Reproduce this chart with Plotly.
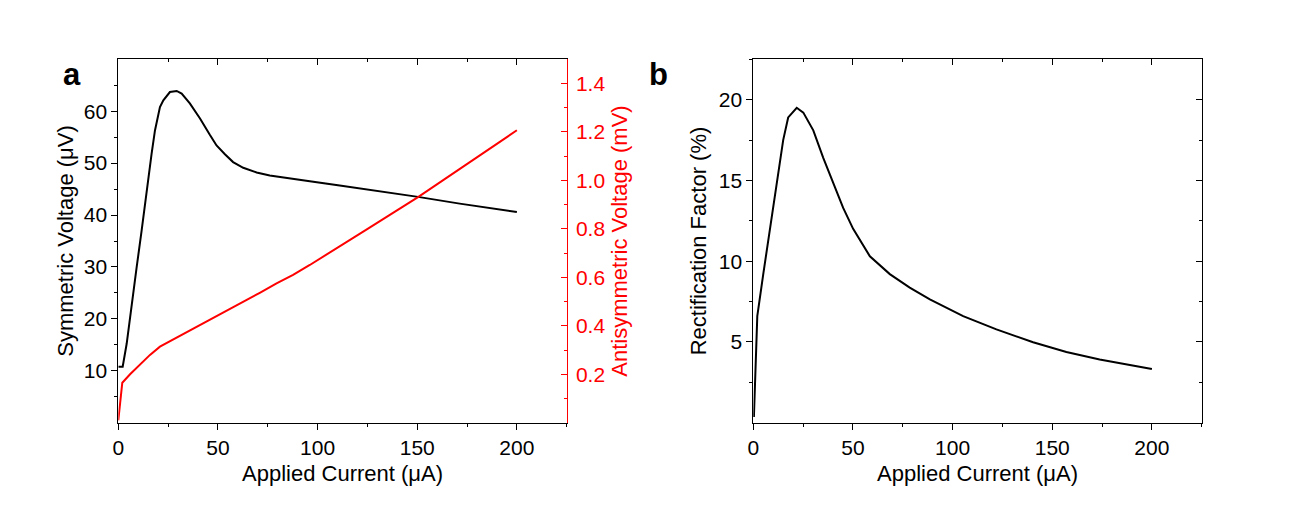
import plotly.graph_objects as go

# ---------------- data ----------------
# Panel a: symmetric voltage (uV) vs applied current (uA)
I_sym = [0, 2.2, 4.2, 6.7, 9.2, 11.7, 14.2, 16.7, 18.4, 20.9, 22.6, 25.9, 29.3, 31.8,
         35.9, 41.0, 46.0, 49.3, 53.5, 57.6, 62.7, 69.4, 76.0, 82.7, 89.4, 96.1,
         111.1, 131.2, 150.4, 171.3, 200]
V_sym = [10.8, 10.8, 15.2, 22.9, 29.9, 37.0, 44.7, 51.8, 56.3, 60.8, 62.1, 63.7, 63.9, 63.4,
         61.5, 58.6, 55.4, 53.4, 51.7, 50.2, 49.1, 48.2, 47.6, 47.2, 46.9, 46.5,
         45.7, 44.6, 43.5, 42.2, 40.6]

# Panel a: antisymmetric voltage (mV) vs applied current (uA)
I_anti = [0, 0.85, 2.0, 5.9, 10.9, 15.9, 20.9, 29.3, 37.6, 46.0, 54.3, 62.7, 71.0, 79.4,
          87.7, 96.1, 107.8, 124.5, 150.4, 166.3, 183.0, 200]
V_anti = [0.01, 0.09, 0.165, 0.20, 0.241, 0.28, 0.314, 0.351, 0.386, 0.423, 0.462, 0.496,
          0.536, 0.575, 0.61, 0.651, 0.71, 0.797, 0.931, 1.02, 1.11, 1.207]

# Panel b: rectification factor (%) vs applied current (uA)
I_rf = [0.3, 0.8, 1.3, 1.7, 2.0, 5.0, 9.2, 13.4, 15.0, 17.5, 21.8, 25.1, 30.1, 35.1, 40.1,
        45.1, 50.1, 58.5, 68.5, 78.5, 88.6, 105.3, 122.0, 140.4, 157.1, 173.8, 200]
V_rf = [0.35, 2.1, 3.7, 5.3, 6.6, 9.2, 12.7, 16.4, 17.5, 18.9, 19.5, 19.2, 18.1, 16.4, 14.9,
        13.3, 12.0, 10.3, 9.2, 8.36, 7.63, 6.6, 5.78, 4.98, 4.38, 3.91, 3.32]

x_ticks = [0, 50, 100, 150, 200]
sym_ticks = [10, 20, 30, 40, 50, 60]
anti_ticks = [0.2, 0.4, 0.6, 0.8, 1.0, 1.2, 1.4]
anti_labels = ["0.2", "0.4", "0.6", "0.8", "1.0", "1.2", "1.4"]
rf_ticks = [5, 10, 15, 20]

FONT = "Liberation Sans, Arial, sans-serif"
FS = 21
FT = 22
RED = "#ff0000"
W, H = 1295, 510
OFF = 8  # page body margin

fig = go.Figure()
fig.add_trace(go.Scatter(x=I_sym, y=V_sym, mode="lines", line=dict(color="black", width=2),
                         xaxis="x", yaxis="y", showlegend=False))
fig.add_trace(go.Scatter(x=I_anti, y=V_anti, mode="lines", line=dict(color=RED, width=2),
                         xaxis="x", yaxis="y2", showlegend=False))
fig.add_trace(go.Scatter(x=I_rf, y=V_rf, mode="lines", line=dict(color="black", width=2),
                         xaxis="x2", yaxis="y3", showlegend=False))
# invisible helper traces so the mirror (frame) axes are drawn
fig.add_trace(go.Scatter(x=I_sym, y=V_sym, mode="lines", opacity=0, hoverinfo="skip",
                         xaxis="x3", yaxis="y", showlegend=False))
fig.add_trace(go.Scatter(x=I_rf, y=V_rf, mode="lines", opacity=0, hoverinfo="skip",
                         xaxis="x4", yaxis="y4", showlegend=False))


def px_x(X):
    return (X - OFF) / W


def px_y(Y):
    return 1 - (Y - OFF) / H


xa_dom = [px_x(118.3), px_x(566.7)]
xb_dom = [px_x(753.3), px_x(1201.7)]
y_dom = [px_y(422.7), px_y(59.3)]

tickfont = dict(family=FONT, size=FS, color="black")
titlefont = dict(family=FONT, size=FT, color="black")


def xaxis_main(domain, anchor):
    return dict(domain=domain, anchor=anchor, range=[0, 225], tickmode="array",
                tickvals=x_ticks, ticks="outside", ticklen=6, tickwidth=1, tickcolor="black",
                minor=dict(tickmode="linear", tick0=25, dtick=50, ticks="outside", ticklen=3,
                           tickcolor="black"),
                showline=True, linecolor="black", linewidth=1, showgrid=False, zeroline=False,
                tickfont=tickfont, automargin=False,
                title=dict(text="Applied Current (\u03bcA)", font=titlefont, standoff=7))


def xaxis_top(overlay, anchor):
    return dict(overlaying=overlay, anchor=anchor, side="top", range=[0, 225],
                tickmode="array", tickvals=x_ticks, ticks="inside", ticklen=6,
                tickcolor="black",
                minor=dict(tickmode="linear", tick0=25, dtick=50, ticks="inside", ticklen=3,
                           tickcolor="black"),
                showticklabels=False, showline=True, linecolor="black", linewidth=1,
                showgrid=False, zeroline=False, automargin=False)


fig.update_layout(
    width=W, height=H,
    margin=dict(l=0, r=0, t=0, b=0),
    paper_bgcolor="white", plot_bgcolor="white",
    showlegend=False,
    xaxis=xaxis_main(xa_dom, "y"),
    xaxis3=xaxis_top("x", "y"),
    yaxis=dict(domain=y_dom, anchor="x", range=[0, 70], tickmode="array", tickvals=sym_ticks,
               ticks="outside", ticklen=6, tickcolor="black",
               minor=dict(tickmode="linear", tick0=5, dtick=10, ticks="outside", ticklen=3,
                          tickcolor="black"),
               showline=True, linecolor="black", linewidth=1, showgrid=False, zeroline=False,
               tickfont=tickfont, automargin=False,
               title=dict(text="Symmetric Voltage (\u03bcV)", font=titlefont, standoff=4)),
    yaxis2=dict(overlaying="y", anchor="x", side="right", range=[0, 1.5], tickmode="array",
                tickvals=anti_ticks, ticktext=anti_labels,
                ticks="inside", ticklen=6, tickcolor=RED,
                minor=dict(tickmode="linear", tick0=0.1, dtick=0.2, ticks="inside", ticklen=3,
                           tickcolor=RED),
                showline=True, linecolor=RED, linewidth=1, showgrid=False, zeroline=False,
                tickfont=dict(family=FONT, size=FS, color=RED), ticklabelstandoff=4,
                automargin=False,
                title=dict(text="Antisymmetric Voltage (mV)",
                           font=dict(family=FONT, size=FT, color=RED), standoff=7)),
    xaxis2=xaxis_main(xb_dom, "y3"),
    xaxis4=xaxis_top("x2", "y3"),
    yaxis3=dict(domain=y_dom, anchor="x2", range=[0, 22.5], tickmode="array",
                tickvals=rf_ticks, ticks="outside", ticklen=6, tickcolor="black",
                minor=dict(tickmode="linear", tick0=2.5, dtick=5, ticks="outside", ticklen=3,
                           tickcolor="black"),
                showline=True, linecolor="black", linewidth=1, showgrid=False, zeroline=False,
                tickfont=tickfont, automargin=False,
                title=dict(text="Rectification Factor (%)", font=titlefont, standoff=6)),
    yaxis4=dict(overlaying="y3", anchor="x2", side="right", range=[0, 22.5], tickmode="array",
                tickvals=rf_ticks, ticks="inside", ticklen=6, tickcolor="black",
                minor=dict(tickmode="linear", tick0=2.5, dtick=5, ticks="inside", ticklen=3,
                           tickcolor="black"),
                showticklabels=False, showline=True, linecolor="black", linewidth=1,
                showgrid=False, zeroline=False, automargin=False),
    annotations=[
        dict(text="<b>a</b>", x=px_x(61), y=px_y(75), xref="paper", yref="paper",
             xanchor="left", yanchor="middle", showarrow=False,
             font=dict(family=FONT, size=31, color="black")),
        dict(text="<b>b</b>", x=px_x(647), y=px_y(75), xref="paper", yref="paper",
             xanchor="left", yanchor="middle", showarrow=False,
             font=dict(family=FONT, size=31, color="black")),
    ],
)

fig.write_html("out.html")
